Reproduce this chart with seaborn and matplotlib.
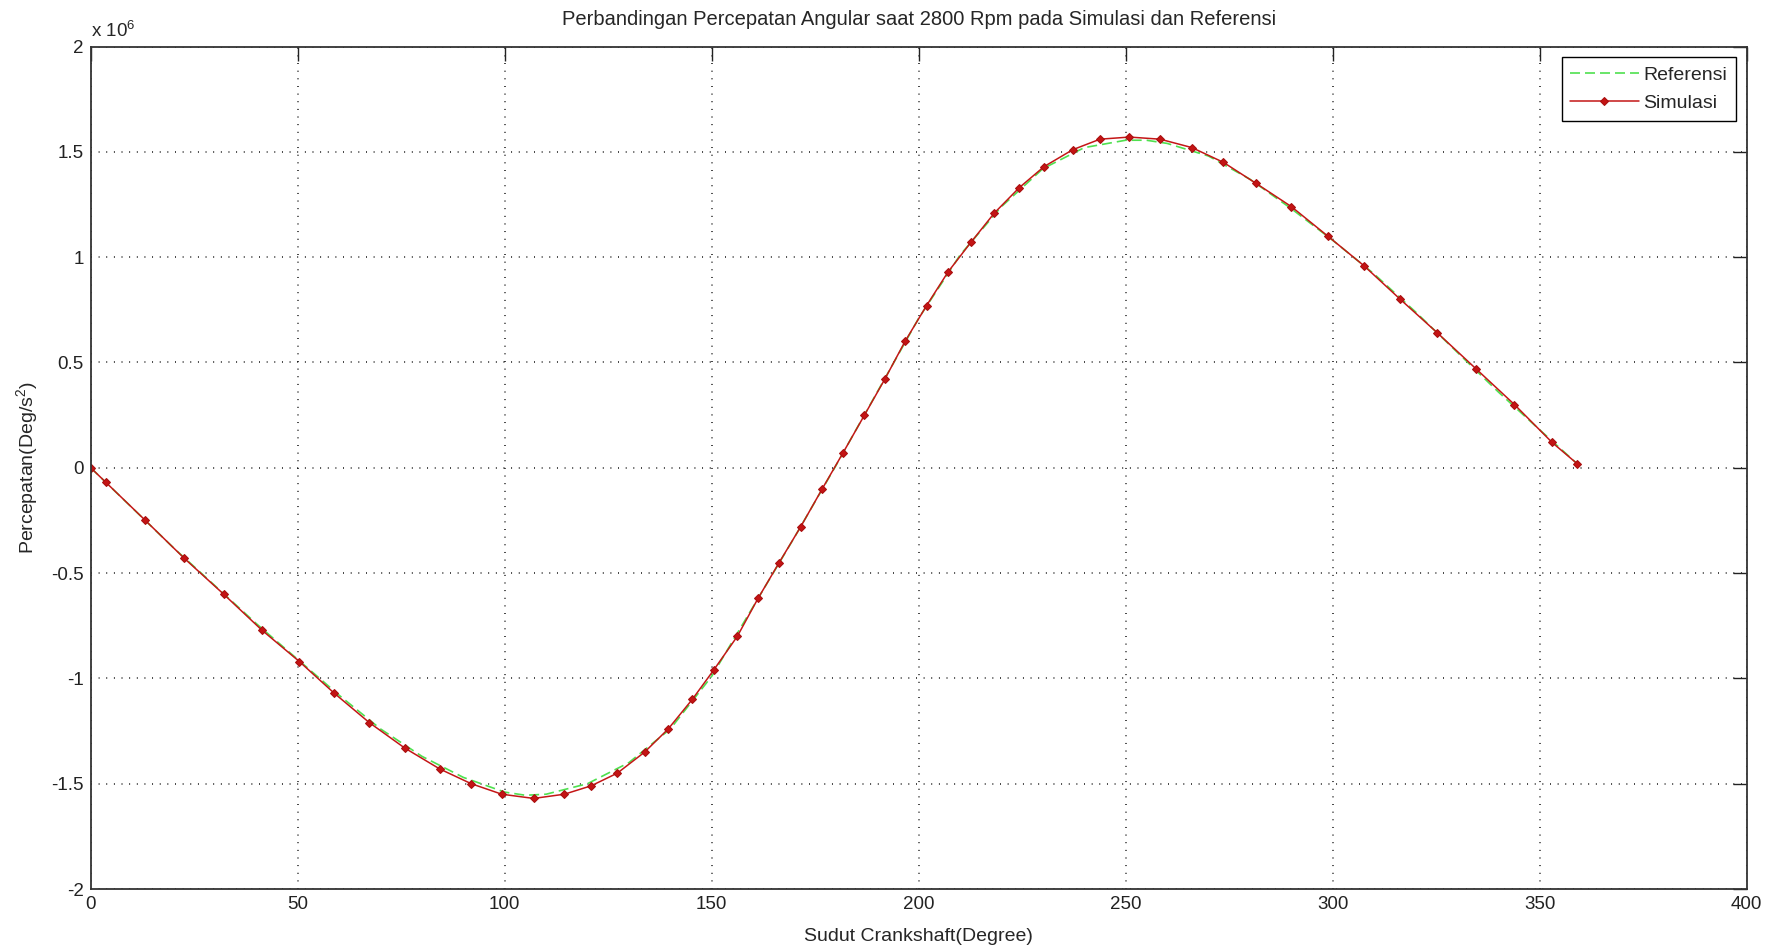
import matplotlib
matplotlib.use("Agg")
import matplotlib.pyplot as plt
import seaborn as sns
import pandas as pd
from matplotlib.ticker import FuncFormatter, MultipleLocator

# ---- data (y values in units of 10^6 Deg/s^2) ----
ref_x = [0, 10, 20, 30, 40, 50, 60, 70, 80, 90, 100, 105, 110, 120, 130, 140, 150,
         160, 170, 180, 190, 200, 210, 220, 230, 240, 250, 255, 260, 270, 280, 290,
         300, 310, 320, 330, 340, 350, 359]
ref_y = [0, -0.19, -0.38, -0.56, -0.74, -0.91, -1.08, -1.24, -1.37, -1.47, -1.54, -1.555,
         -1.55, -1.50, -1.40, -1.24, -0.99, -0.66, -0.33, 0.01, 0.36, 0.71, 1.01, 1.24,
         1.42, 1.52, 1.555, 1.555, 1.54, 1.48, 1.37, 1.23, 1.08, 0.92, 0.74, 0.55,
         0.36, 0.18, 0.02]

sim_x = [0, 3.7, 13.2, 22.6, 32.1, 41.3, 50.4, 58.8, 67.3, 75.8, 84.3, 91.9, 99.3, 107,
         114.4, 120.9, 127.2, 133.8, 139.5, 145.3, 150.5, 156.2, 161.2, 166.3, 171.5,
         176.7, 181.7, 186.9, 191.8, 196.7, 201.9, 207.1, 212.6, 218.3, 224.3, 230.3,
         237.2, 243.8, 250.9, 258.3, 266, 273.6, 281.5, 290, 298.8, 307.5, 316.3, 325.3,
         334.6, 343.9, 353, 359]
sim_y = [0, -0.07, -0.25, -0.43, -0.60, -0.77, -0.92, -1.07, -1.21, -1.33, -1.43, -1.50,
         -1.55, -1.57, -1.55, -1.51, -1.45, -1.35, -1.24, -1.10, -0.96, -0.80, -0.62,
         -0.45, -0.28, -0.10, 0.07, 0.25, 0.42, 0.60, 0.77, 0.93, 1.07, 1.21, 1.33, 1.43,
         1.51, 1.56, 1.57, 1.56, 1.52, 1.45, 1.35, 1.24, 1.10, 0.96, 0.80, 0.64, 0.47,
         0.30, 0.12, 0.02]

title = "Perbandingan Percepatan Angular saat 2800 Rpm pada Simulasi dan Referensi"
xlabel = "Sudut Crankshaft(Degree)"
ylabel = "Percepatan(Deg/s$^2$)"
series_names = ["Referensi", "Simulasi"]
scale = 1e6

df_ref = pd.DataFrame({"x": ref_x, "y": [v * scale for v in ref_y]})
df_sim = pd.DataFrame({"x": sim_x, "y": [v * scale for v in sim_y]})

sns.set_style("white")
plt.rcParams["font.family"] = ["Liberation Sans", "DejaVu Sans"]
plt.rcParams["axes.unicode_minus"] = False
plt.rcParams["mathtext.fontset"] = "custom"
plt.rcParams["mathtext.rm"] = "Liberation Sans"
plt.rcParams["mathtext.it"] = "Liberation Sans"

FS = 14

fig = plt.figure(figsize=(17.76, 9.5), dpi=100)
ax = fig.add_axes([90.7 / 1776, 1 - 889 / 950, 1656 / 1776, 842.5 / 950])

sns.lineplot(data=df_ref, x="x", y="y", ax=ax, color="#4fe04f", linewidth=1.2,
             dashes=False, label=series_names[0], sort=False)
ax.lines[-1].set_dashes((6, 3))
sns.lineplot(data=df_sim, x="x", y="y", ax=ax, color="#c41616", linewidth=1.1,
             marker="D", markersize=4, markeredgecolor="#a80e0e",
             markerfacecolor="#c41414", label=series_names[1], sort=False)

ax.set_xlim(0, 400)
ax.set_ylim(-2e6, 2e6)
ax.xaxis.set_major_locator(MultipleLocator(50))
ax.yaxis.set_major_locator(MultipleLocator(0.5e6))
ax.yaxis.set_major_formatter(FuncFormatter(lambda v, p: "%g" % (v / scale)))
ax.xaxis.set_major_formatter(FuncFormatter(lambda v, p: "%g" % v))

ax.grid(True, color="black", linestyle=(0, (0.6, 4.4)), linewidth=1.1)
ax.tick_params(direction="in", length=10, width=1, top=True, right=True,
               labelsize=13.5, colors="#222222", pad=5)
for s in ax.spines.values():
    s.set_color("#333333")
    s.set_linewidth(1.3)

ax.set_title(title, fontsize=14.5, pad=15.5)
ax.set_xlabel(xlabel, fontsize=FS, labelpad=11)
ax.set_ylabel(ylabel, fontsize=FS, labelpad=8)
ax.text(0.0, 1.006, r"x 10$^{6}$", transform=ax.transAxes, fontsize=13.5,
        ha="left", va="bottom")

leg = ax.legend(loc="upper right", fontsize=FS, frameon=True, fancybox=False,
                edgecolor="black", framealpha=1, handlelength=3.5,
                borderaxespad=0.55, labelspacing=0.55, handletextpad=0.25,
                borderpad=0.45)
leg.get_frame().set_linewidth(1.0)

fig.savefig("out.png", dpi=100)
